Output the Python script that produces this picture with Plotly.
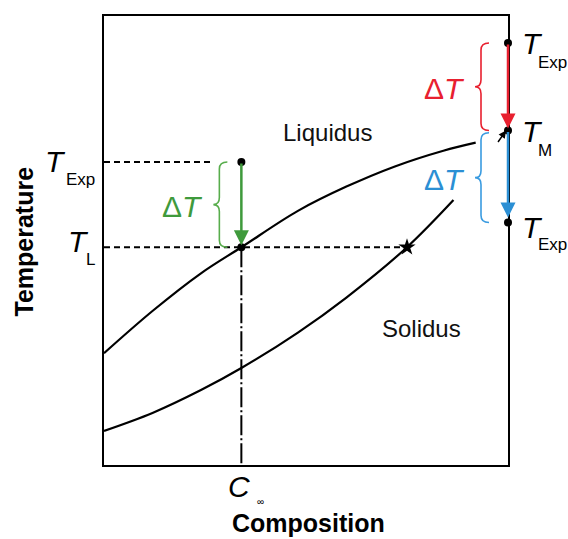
import plotly.graph_objects as go

# Phase-diagram data (composition %, temperature in arbitrary units)
liquidus_comp = [0, 12, 24, 34, 48, 60, 72, 84, 92]
liquidus_temp = [24.9, 34.3, 42.7, 48.5, 56.6, 62.0, 66.5, 70.0, 71.8]

solidus_comp = [0, 12, 24, 34, 48, 60, 75, 86.5]
solidus_temp = [7.6, 11.6, 16.7, 21.6, 29.5, 37.3, 48.5, 59.0]

c_inf = 34          # alloy composition C_inf
t_liquidus = 48.5   # T_L at C_inf
t_exp_left = 67.5   # experiment temperature (left case)
star_comp = 75      # solidus composition at T_L

edge_comp = 100     # right edge (pure component)
t_melt = 74.5       # T_M
t_exp_high = 94.0   # superheated experiment temperature
t_exp_low = 54.0    # undercooled experiment temperature

RED = "#e8202f"
BLUE = "#2b8fd4"
GREEN = "#3f9a3c"
FONT = "Arial, Liberation Sans, sans-serif"

W, H = 568, 539
M_L, M_R, M_T, M_B = 104, 60, 16, 74
PX_X = (W - M_L - M_R) / 100.0
PX_Y = (H - M_T - M_B) / 100.0

fig = go.Figure()

line_style = dict(color="black", width=2.2)
fig.add_trace(go.Scatter(x=liquidus_comp, y=liquidus_temp, mode="lines",
                         line=dict(shape="spline", **line_style), hoverinfo="skip"))
fig.add_trace(go.Scatter(x=solidus_comp, y=solidus_temp, mode="lines",
                         line=dict(shape="spline", **line_style), hoverinfo="skip"))

# guide lines
fig.add_trace(go.Scatter(x=[0, c_inf - 28 / PX_X], y=[t_exp_left, t_exp_left], mode="lines",
                         line=dict(color="black", width=2, dash="6px,4px"), hoverinfo="skip"))
fig.add_trace(go.Scatter(x=[0, star_comp], y=[t_liquidus, t_liquidus], mode="lines",
                         line=dict(color="black", width=2, dash="6px,4px"), hoverinfo="skip"))
fig.add_trace(go.Scatter(x=[c_inf, c_inf], y=[t_liquidus, 0], mode="lines",
                         line=dict(color="black", width=2, dash="20px,3px,2px,3px"), hoverinfo="skip"))

# points
fig.add_trace(go.Scatter(x=[c_inf, c_inf, edge_comp, edge_comp, edge_comp],
                         y=[t_exp_left, t_liquidus, t_exp_high, t_melt, t_exp_low],
                         mode="markers", marker=dict(color="black", size=8),
                         cliponaxis=False, hoverinfo="skip"))
fig.add_trace(go.Scatter(x=[star_comp], y=[t_liquidus], mode="markers",
                         marker=dict(color="black", size=13, symbol="star"),
                         cliponaxis=False, hoverinfo="skip"))

ann = []


def arrow(x0, y0, x1, y1, color, width=2.5, size=1.2, standoff=0):
    ann.append(dict(x=x1, y=y1, ax=x0, ay=y0, xref="x", yref="y", axref="x", ayref="y",
                    text="", showarrow=True, arrowhead=2, arrowsize=size,
                    arrowwidth=width, arrowcolor=color, standoff=standoff))


arrow(c_inf, t_exp_left, c_inf, t_liquidus, GREEN, standoff=2)
arrow(edge_comp, t_exp_high, edge_comp, t_melt, RED, standoff=2)
arrow(edge_comp, t_melt, edge_comp, t_exp_low, BLUE, standoff=5)
arrow(edge_comp - 11 / PX_X, t_melt - 13 / PX_Y, edge_comp - 2 / PX_X, t_melt, "black",
      width=1.5, size=1.0)


def brace(spine, y_top, y_bot, color):
    xr = spine + 8 / PX_X
    xt = spine - 6 / PX_X
    r = 7 / PX_Y
    ym = (y_top + y_bot) / 2
    path = (f"M {xr},{y_top} Q {spine},{y_top} {spine},{y_top - r} "
            f"L {spine},{ym + r} Q {spine},{ym} {xt},{ym} "
            f"Q {spine},{ym} {spine},{ym - r} L {spine},{y_bot + r} "
            f"Q {spine},{y_bot} {xr},{y_bot}")
    fig.add_shape(type="path", path=path, xref="x", yref="y",
                  line=dict(color=color, width=1.6))
    return xt, ym


def delta_label(xt, ym, color):
    ann.append(dict(x=xt, y=ym, xref="x", yref="y", text="Δ<i>T</i>", showarrow=False,
                    xanchor="right", yanchor="middle", xshift=-8, yshift=-2,
                    font=dict(family=FONT, size=30, color=color)))


delta_label(*brace(c_inf - 22 / PX_X, t_exp_left, t_liquidus, "#58ad4c"), GREEN)
delta_label(*brace(edge_comp - 27 / PX_X, t_exp_high, t_melt, RED), RED)
delta_label(*brace(edge_comp - 27 / PX_X, t_melt - 0.5, t_exp_low, "#3a9be0"), BLUE)


def t_label(x, y, sub, anchor, tx, ty, sx, sy):
    ann.append(dict(x=x, y=y, xref="x", yref="y", text="<i>T</i>", showarrow=False,
                    xanchor=anchor, yanchor="middle", xshift=tx, yshift=ty,
                    font=dict(family=FONT, size=30, color="black")))
    ann.append(dict(x=x, y=y, xref="x", yref="y", text=sub, showarrow=False,
                    xanchor=anchor, yanchor="middle", xshift=sx, yshift=sy,
                    font=dict(family=FONT, size=17, color="black")))


t_label(0, t_exp_left, "Exp", "right", -36, 0, -7, -18)
t_label(0, t_liquidus, "L", "right", -13, 6, -7, -12)
t_label(edge_comp, t_exp_high, "Exp", "left", 12, -1, 28, -20)
t_label(edge_comp, t_melt, "M", "left", 12, -1, 28, -20)
t_label(edge_comp, t_exp_low, "Exp", "left", 12, -5, 28, -22)

# C_inf on the composition axis
ann.append(dict(x=c_inf, y=0, xref="x", yref="y", text="<i>C</i>", showarrow=False,
                xanchor="center", yanchor="middle", xshift=-2, yshift=-21,
                font=dict(family=FONT, size=30, color="black")))
ann.append(dict(x=c_inf, y=0, xref="x", yref="y", text="∞", showarrow=False,
                xanchor="center", yanchor="middle", xshift=19, yshift=-36,
                font=dict(family=FONT, size=10, color="black")))

# region labels
ann.append(dict(x=55.2, y=74, xref="x", yref="y", text="Liquidus", showarrow=False,
                font=dict(family=FONT, size=24, color="#111")))
ann.append(dict(x=78.5, y=30.3, xref="x", yref="y", text="Solidus", showarrow=False,
                font=dict(family=FONT, size=24, color="#111")))

# axis titles
ann.append(dict(x=0.5, y=0, xref="paper", yref="paper", text="<b>Composition</b>",
                showarrow=False, xanchor="center", yanchor="middle", xshift=2, yshift=-58,
                font=dict(family=FONT, size=25, color="black")))
ann.append(dict(x=0, y=0.5, xref="paper", yref="paper", text="<b>Temperature</b>",
                showarrow=False, xanchor="center", yanchor="middle", xshift=-81, yshift=-1,
                textangle=-90, font=dict(family=FONT, size=25, color="black")))

axis_style = dict(range=[0, 100], showgrid=False, zeroline=False, showticklabels=False,
                  ticks="", showline=True, mirror=True, linecolor="black", linewidth=2,
                  fixedrange=True)

fig.update_layout(
    width=W, height=H,
    margin=dict(l=M_L, r=M_R, t=M_T, b=M_B),
    paper_bgcolor="white", plot_bgcolor="white",
    showlegend=False,
    xaxis=axis_style, yaxis=axis_style,
    annotations=ann,
)

fig.write_html("out.html")
